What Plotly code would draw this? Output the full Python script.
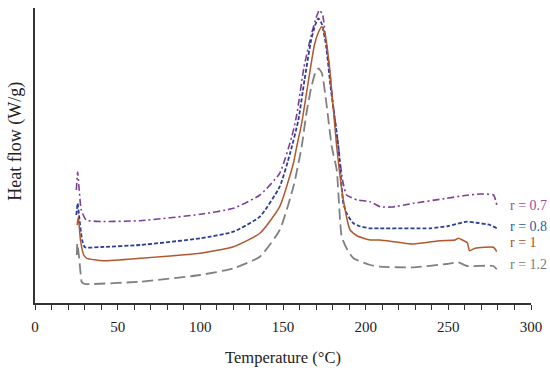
import plotly.graph_objects as go

# r = 0.7
t07 = [25.0, 25.8, 26.5, 28, 31, 40, 63.5, 100, 120, 136, 148, 155.3, 158.3, 162.7, 167.4, 170, 172, 174, 175.4, 178, 180, 183.5, 186, 188.5, 195, 202.7, 208.7, 216, 228.9, 249, 260, 269.2, 277.3, 279.3]
h07 = [113, 131, 118, 93, 83, 81.5, 82.3, 88.7, 94.7, 108, 129.7, 166.3, 188, 236, 270, 285, 293, 288, 270, 236, 203, 156.3, 123, 108, 103, 101.3, 96.3, 96, 99.7, 104.7, 107.5, 109, 108, 98]
# r = 0.8
t08 = [25.0, 25.8, 26.6, 28.5, 30.2, 40, 63.5, 100, 120, 136, 148, 154.3, 159.3, 163, 167, 169.5, 171.4, 173.5, 176, 179, 183.5, 186.5, 189, 192.6, 196, 202.7, 208.7, 239, 250, 261.2, 268, 275.3, 279.3]
h08 = [88, 99.7, 88, 63, 55.7, 56, 58, 64.7, 71.3, 86.3, 116.3, 149.7, 183, 223, 263, 278, 284.7, 279, 258, 213, 156.3, 99.7, 88, 79.7, 77, 74.7, 74.7, 74.7, 77, 81.3, 80, 78, 74.7]
# r = 1
t10 = [25.5, 26.2, 27.5, 29.5, 31.3, 41.3, 63.5, 100, 120, 136, 148, 156.3, 158.3, 161.3, 165, 169, 171.5, 173.4, 175.5, 178, 180.5, 182.5, 186.5, 190.6, 195, 202.7, 208.7, 228.9, 245, 254, 256.1, 258.5, 261.5, 262.8, 266.2, 277.3, 279.3]
h10 = [78, 86.3, 63, 48, 44.7, 42.3, 44.7, 49.7, 56.3, 69.7, 96.3, 139.7, 156.3, 179.7, 218, 258, 271, 276.3, 268, 238, 193, 156.3, 103, 73, 67, 63, 63, 59, 62.3, 63, 64.7, 63, 60.3, 52.3, 54.7, 55.7, 51.3]
# r = 1.2
t12 = [25.3, 25.6, 26.5, 27.5, 28.2, 30, 35.3, 63.5, 99.8, 120, 136, 148, 156.3, 161.3, 164, 167, 169.5, 171.4, 173.5, 176, 179.5, 182.5, 185.5, 189, 192.6, 202.7, 208.7, 228.9, 249, 256.1, 261.2, 277.3, 279.3]
h12 = [48, 59.7, 48, 31, 21.3, 19, 19, 21.3, 28, 34.7, 46.3, 73, 116.3, 156.3, 188, 215, 230, 234.7, 230, 203, 156.3, 133, 66.3, 53, 44.7, 38, 36.3, 35.7, 39, 40.7, 37, 37, 33.7]

labels = ["r = 0.7", "r = 0.8", "r = 1", "r = 1.2"]
label_y = [98, 77, 61, 39]

series = [(t07, h07), (t08, h08), (t10, h10), (t12, h12)]
line_colors = ["#7d3f98", "#2b3f9a", "#b0582e", "#808080"]
text_colors = ["#9b4e97", "#2a5d9f", "#a0522d", "#7a7a7a"]
dashes = ["7px,3px,2px,3px", "4px,2px", "solid", "11px,5px"]
widths = [1.6, 1.8, 1.5, 1.8]

fig = go.Figure()
for (t, h), c, d, w, name in zip(series, line_colors, dashes, widths, labels):
    fig.add_trace(go.Scatter(x=t, y=h, mode="lines", name=name,
                             line=dict(color=c, dash=d, width=w, shape="spline", smoothing=0.5),
                             showlegend=False, cliponaxis=False, hoverinfo="skip"))

for lab, ly, c in zip(labels, label_y, text_colors):
    fig.add_annotation(x=286, y=ly, text=lab, showarrow=False, xanchor="left", yanchor="middle",
                       font=dict(family="Liberation Serif", size=14, color=c))

serif = "Liberation Serif, DejaVu Serif, serif"
fig.add_annotation(xref="paper", yref="paper", x=-0.04, y=0.547, text="Heat flow (W/g)",
                   textangle=-90, showarrow=False, xanchor="center", yanchor="middle",
                   font=dict(family=serif, size=18, color="#222"))

fig.update_layout(
    width=550, height=374,
    margin=dict(l=35, r=19, t=8, b=71, autoexpand=False),
    paper_bgcolor="white", plot_bgcolor="white",
    font=dict(family=serif, color="#222"),
    xaxis=dict(range=[0, 300], dtick=50, tick0=0, showgrid=False, zeroline=False,
               automargin=False,
               showline=True, linecolor="#333", linewidth=1.5,
               ticks="outside", ticklen=5, tickcolor="#333", tickwidth=1.2,
               ticklabelstandoff=4,
               tickfont=dict(family=serif, size=15, color="#222"),
               minor=dict(dtick=10, ticks="outside", ticklen=5, tickcolor="#333", tickwidth=1.2),
               title=dict(text="Temperature (°C)", font=dict(family=serif, size=16.5, color="#222"), standoff=18)),
    yaxis=dict(range=[0, 295], showgrid=False, zeroline=False, showline=True,
               automargin=False,
               linecolor="#333", linewidth=1.5, showticklabels=False, ticks=""),
)

fig.write_html("out.html", config={"displayModeBar": False},
               post_script="document.body.style.margin='0';document.body.style.overflow='hidden';")
